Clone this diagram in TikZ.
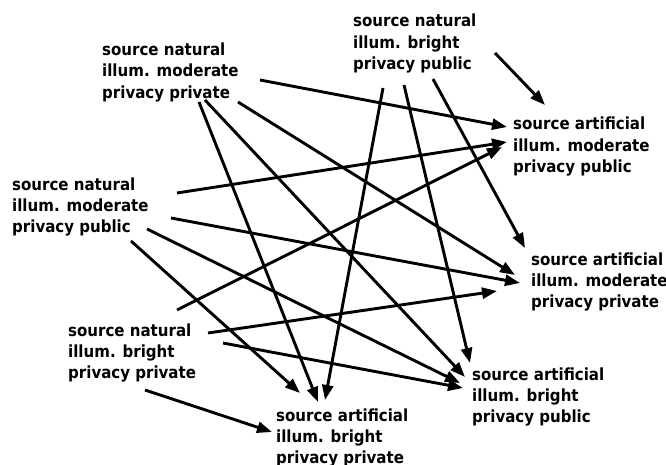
\documentclass[tikz,border=0pt]{standalone}
\usepackage{fontspec}
\newfontfamily\lblfont{DejaVu Sans Condensed Bold}
\usetikzlibrary{arrows.meta}
\tikzset{
  lbl/.style={anchor=base west, inner sep=0pt, align=left,
    font=\lblfont\fontsize{16.7}{21.3}\selectfont},
  edge/.style={line width=2.9pt, -{Triangle[length=15pt,width=11pt]}}
}
\begin{document}
\begin{tikzpicture}[x=1pt, y=-1pt]
\useasboundingbox[fill=white] (0,0) rectangle (666,465);
% sources (anchored at the baseline of their last line)
\node[lbl] (nmpriv) at (102,98.1)  {source natural\\illum. moderate\\privacy private};
\node[lbl] (nmpub)  at (12,232.6)  {source natural\\illum. moderate\\privacy public};
\node[lbl] (nbpriv) at (68,378.6)  {source natural\\illum. bright\\privacy private};
\node[lbl] (nbpub)  at (353,69.6)  {source natural\\illum. bright\\privacy public};
% targets
\node[lbl] (ampub)  at (513,172.6) {source artificial\\illum. moderate\\privacy public};
\node[lbl] (ampriv) at (531,307.6) {source artificial\\illum. moderate\\privacy private};
\node[lbl] (abpub)  at (472,422.6) {source artificial\\illum. bright\\privacy public};
\node[lbl] (abpriv) at (276,463.6) {source artificial\\illum. bright\\privacy private};
% edges from natural moderate private
\draw[edge] ([shift={(158,-18.1)}]nmpriv.base west) -- ([shift={(-6,-45.6)}]ampub.base west);
\draw[edge] ([shift={(136,3.9)}]nmpriv.base west) -- ([shift={(-16,-32.6)}]ampriv.base west);
\draw[edge] ([shift={(103,1.9)}]nmpriv.base west) -- ([shift={(-7,-45.6)}]abpub.base west);
\draw[edge] ([shift={(97,3.9)}]nmpriv.base west) -- ([shift={(42,-61.6)}]abpriv.base west);
% edges from natural moderate public
\draw[edge] ([shift={(165,-39.6)}]nmpub.base west) -- ([shift={(-6,-30.6)}]ampub.base west);
\draw[edge] ([shift={(159,-14.6)}]nmpub.base west) -- ([shift={(-11,-24.6)}]ampriv.base west);
\draw[edge] ([shift={(135,-3.6)}]nmpub.base west) -- ([shift={(-12,-39.6)}]abpub.base west);
\draw[edge] ([shift={(119,8.4)}]nmpub.base west) -- ([shift={(24,-70.6)}]abpriv.base west);
% edges from natural bright private
\draw[edge] ([shift={(109,-68.6)}]nbpriv.base west) -- ([shift={(-11,-25.6)}]ampub.base west);
\draw[edge] ([shift={(140,-45.6)}]nbpriv.base west) -- ([shift={(-34,-16.6)}]ampriv.base west);
\draw[edge] ([shift={(155,-35.6)}]nbpriv.base west) -- ([shift={(-9,-34.6)}]abpub.base west);
\draw[edge] ([shift={(77,11.4)}]nbpriv.base west) -- ([shift={(-4,-31.6)}]abpriv.base west);
% edges from natural bright public
\draw[edge] ([shift={(142,-16.6)}]nbpub.base west) -- ([shift={(32,-67.6)}]ampub.base west);
\draw[edge] ([shift={(80,9.4)}]nbpub.base west) -- ([shift={(-6,-59.6)}]ampriv.base west);
\draw[edge] ([shift={(51,15.4)}]nbpub.base west) -- ([shift={(-2,-59.6)}]abpub.base west);
\draw[edge] ([shift={(30,18.4)}]nbpub.base west) -- ([shift={(49,-63.6)}]abpriv.base west);
\end{tikzpicture}
\end{document}
